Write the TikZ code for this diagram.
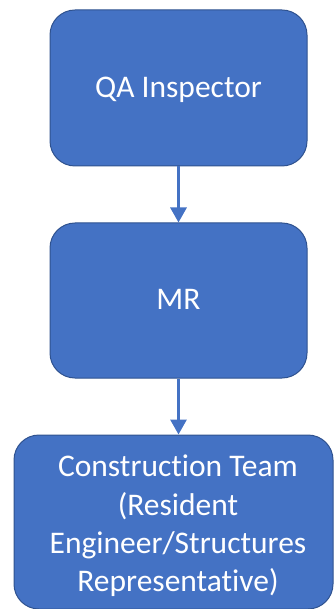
\documentclass[tikz,border=0pt]{standalone}
\usepackage{fontspec}
\setmainfont[Ligatures=NoCommon]{Carlito}
\usetikzlibrary{arrows.meta}
\definecolor{boxfill}{HTML}{4472C4}
\definecolor{boxline}{HTML}{2F528F}
\begin{document}
\begin{tikzpicture}[x=1pt,y=-1pt,
  orgbox/.style={draw=boxline, line width=1pt, fill=boxfill, rounded corners=25pt, inner sep=0pt},
  boxtext/.style={text=white, font=\fontsize{31.5}{38.3}\selectfont, align=center, inner sep=0pt, anchor=base},
  link/.style={draw=boxfill, line width=3pt, -{Triangle[width=16pt,length=15pt]}}]
\useasboundingbox (0,0) rectangle (335,609);
\clip (0,0) rectangle (335,609);
\node[orgbox, minimum width=257pt, minimum height=156pt] (qa) at (178.5,88) {};
\node[boxtext] (qat) at (178.5,97.3) {QA Inspector};
\node[orgbox, minimum width=257pt, minimum height=155pt] (mr) at (178.5,300.5) {};
\node[boxtext] (mrt) at (178.5,309.3) {MR};
\node[orgbox, minimum width=319pt, minimum height=174pt] (ct) at (173.5,522) {};
\node[boxtext] (ctt) at (178,591.6) {Construction Team\\(Resident\\Engineer/Structures\\Representative)};
\draw[link] (qa.south) -- (mr.north -| qa.south);
\draw[link] (mr.south) -- (mr.south |- ct.north);
\end{tikzpicture}
\end{document}
